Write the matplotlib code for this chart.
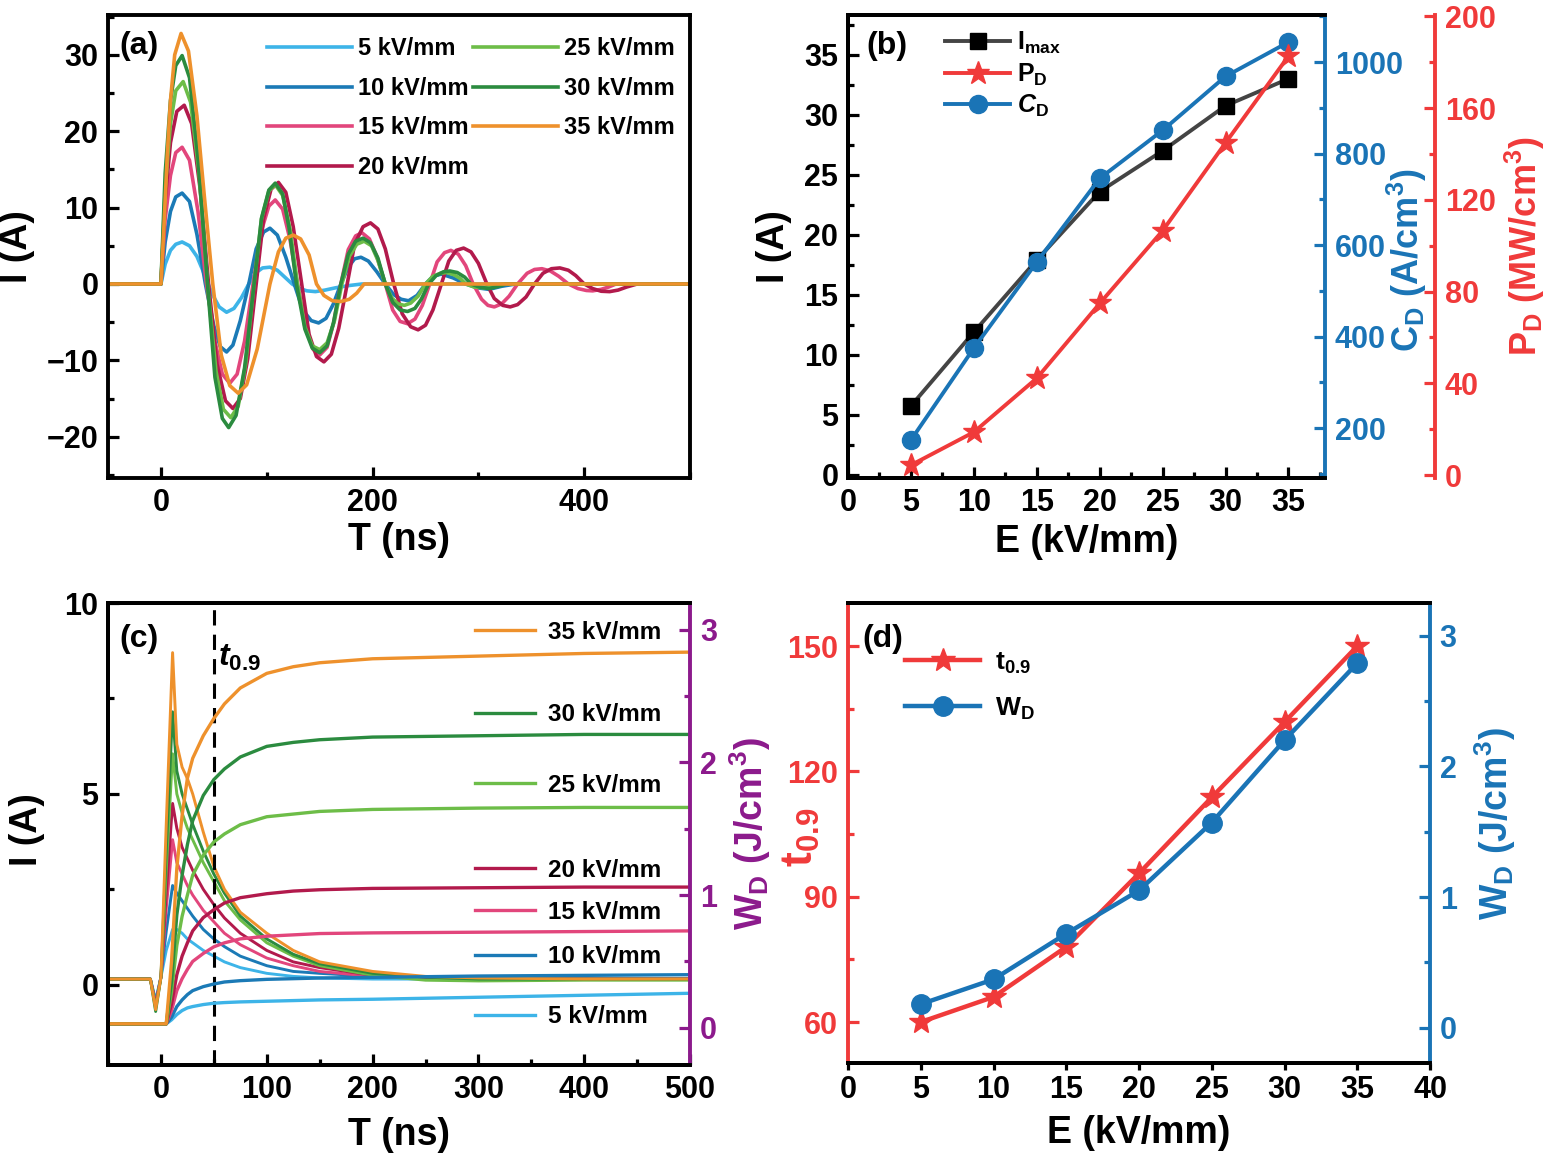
import matplotlib
matplotlib.use('Agg')
import matplotlib.pyplot as plt
from matplotlib.ticker import MultipleLocator
from matplotlib.legend import Legend

# ---------------- DATA ----------------
fields = [5, 10, 15, 20, 25, 30, 35]
field_labels = ['5 kV/mm', '10 kV/mm', '15 kV/mm', '20 kV/mm', '25 kV/mm', '30 kV/mm', '35 kV/mm']

# (a) discharge current waveforms: (T ns, I A)
A5 = [(-50,0),(0,0),(4,2.6),(9,4.4),(14,5.2),(20,5.5),(27,5.0),(34,3.6),(41,1.3),(48,-1.2),(55,-3.0),(62,-3.7),(69,-3.2),(76,-1.8),(83,0.0),(90,1.5),(96,2.1),(103,2.2),(110,1.8),(117,0.9),(124,0.0),(131,-0.6),(138,-0.9),(146,-1.0),(155,-0.8),(165,-0.5),(178,-0.2),(190,0),(500,0)]
A10 = [(-50,0),(0,0),(4,5.5),(9,9.5),(14,11.4),(20,11.9),(27,10.8),(34,6.5),(42,0),(50,-5.5),(56,-8.2),(62,-8.9),(68,-8.0),(75,-4.8),(83,0),(90,4.6),(97,6.8),(103,7.3),(110,6.4),(118,3.5),(126,0),(134,-3.4),(142,-4.8),(149,-5.1),(156,-4.5),(163,-2.6),(170,0),(177,2.2),(183,3.3),(189,3.5),(196,3.0),(204,1.6),(212,0),(220,-1.4),(227,-2.0),(234,-2.2),(242,-1.5),(250,0),(257,1.0),(265,1.3),(276,0.8),(288,0),(299,-0.5),(310,-0.7),(322,-0.3),(335,0),(500,0)]
A15 = [(-50,0),(0,0),(4,8.5),(9,14.2),(14,17.2),(20,17.9),(27,16.2),(35,9.5),(43,0),(51,-7.5),(58,-11.8),(65,-13.0),(72,-11.8),(79,-7.5),(87,0),(95,7.0),(102,10.2),(108,11.0),(115,9.8),(122,5.8),(129,0),(137,-5.8),(144,-8.6),(150,-9.3),(157,-8.3),(163,-5.2),(170,0),(177,4.5),(184,6.3),(190,6.7),(197,5.9),(204,3.6),(212,0),(219,-3.4),(226,-4.9),(233,-5.2),(240,-4.6),(247,-2.8),(254,0),(261,2.9),(268,4.1),(274,4.4),(281,3.9),(288,2.4),(295,0),(303,-2.0),(309,-2.8),(315,-3.0),(322,-2.6),(329,-1.6),(337,0),(346,1.4),(353,1.9),(360,2.0),(368,1.7),(376,1.0),(385,0),(394,-0.6),(402,-0.85),(408,-0.9),(416,-0.7),(423,-0.4),(430,0),(500,0)]
A20 = [(-50,0),(0,0),(4,11),(9,18.5),(15,22.6),(22,23.4),(29,21.0),(37,12.5),(45,0),(53,-10.5),(61,-15.3),(68,-16.3),(75,-15.0),(82,-9.8),(90,0),(97,8.6),(104,12.4),(111,13.3),(118,12.0),(125,7.5),(133,0),(140,-6.6),(147,-9.5),(154,-10.2),(161,-9.2),(168,-5.8),(176,0),(183,5.2),(191,7.5),(198,8.0),(205,7.2),(212,4.6),(220,0),(228,-3.9),(236,-5.6),(243,-6.0),(250,-5.4),(257,-3.4),(265,0),(272,3.0),(279,4.4),(286,4.7),(293,4.2),(300,2.7),(308,0),(315,-1.9),(323,-2.8),(330,-3.0),(337,-2.7),(345,-1.7),(353,0),(361,1.4),(369,2.0),(377,2.1),(385,1.8),(392,1.1),(400,0),(408,-0.6),(416,-0.95),(424,-1.0),(432,-0.8),(440,-0.4),(450,0),(500,0)]
A25 = [(-50,0),(0,0),(4,12.5),(9,21),(14,25.3),(21,26.5),(28,23.8),(36,14.5),(44,0),(52,-11.4),(59,-16.4),(66,-17.5),(73,-16.0),(80,-10.5),(88,0),(95,8.5),(102,12.2),(108,13.0),(115,11.6),(122,7.2),(129,0),(136,-5.6),(143,-8.1),(150,-8.6),(157,-7.7),(164,-4.8),(171,0),(178,3.6),(185,5.2),(192,5.6),(199,5.0),(205,3.1),(212,0),(218,-1.8),(224,-2.6),(230,-2.8),(236,-2.5),(243,-1.6),(250,0),(257,1.0),(264,1.4),(270,1.5),(277,1.2),(283,0.7),(288,0),(296,-0.4),(305,-0.5),(313,-0.3),(322,0),(500,0)]
A30 = [(-50,0),(0,0),(4,14.5),(9,24),(14,28.6),(20,29.9),(27,27.0),(35,16.5),(44,0),(51,-12.2),(58,-17.6),(64,-18.8),(71,-17.2),(79,-11.0),(88,0),(95,8.6),(102,12.3),(108,13.2),(115,11.8),(121,7.4),(128,0),(136,-5.9),(143,-8.4),(150,-9.0),(157,-8.1),(163,-5.1),(170,0),(177,3.9),(184,5.6),(191,6.0),(198,5.4),(205,3.4),(212,0),(219,-2.4),(226,-3.4),(233,-3.6),(240,-3.2),(246,-2.0),(253,0),(260,1.1),(267,1.6),(273,1.7),(280,1.5),(287,0.9),(293,0),(301,-0.4),(310,-0.6),(318,-0.35),(326,0),(500,0)]
A35 = [(-50,0),(0,0),(3,8),(6,17),(9,24),(13,30),(19,32.8),(26,30.5),(34,22),(41,11.5),(49,0),(57,-9.3),(65,-13.3),(73,-14.3),(81,-13.2),(91,-8.5),(103,0),(111,4.2),(118,6.0),(125,6.4),(132,5.9),(140,3.8),(147,0),(154,-1.5),(162,-2.2),(170,-2.3),(178,-2.0),(185,-1.2),(192,0),(500,0)]
waves_a = [A5, A10, A15, A20, A25, A30, A35]

# (b) peak current, current density, power density vs field
E_b = [5, 10, 15, 20, 25, 30, 35]
I_max = [5.75, 11.9, 17.9, 23.6, 27.0, 30.75, 33.0]
C_D = [174, 375, 563, 746, 851, 969, 1044]
P_D = [4.3, 18.7, 42.2, 74.8, 106.5, 144.8, 182.6]

# (c) current (left axis) and discharge energy density (right axis)
T_c = [-50, -10, -5, 0, 5, 11, 15, 20, 25, 30, 40, 50, 60, 75, 100, 125, 150, 200, 250, 300, 400, 500]
C5 = [0.15,0.15,-0.4,0.2,0.9,1.45,1.45,1.35,1.2,1.1,0.9,0.75,0.6,0.45,0.3,0.22,0.18,0.15,0.15,0.15,0.15,0.15]
C10 = [0.15,0.15,-0.45,0.2,1.4,2.6,2.4,2.2,2.0,1.8,1.45,1.2,1.0,0.75,0.5,0.35,0.3,0.22,0.2,0.18,0.15,0.15]
C15 = [0.15,0.15,-0.5,0.2,2.0,3.8,3.2,2.9,2.6,2.35,1.95,1.65,1.35,1.05,0.7,0.5,0.35,0.22,0.18,0.15,0.15,0.15]
C20 = [0.15,0.15,-0.55,0.2,2.4,4.75,4.1,3.6,3.3,3.0,2.5,2.1,1.75,1.35,0.9,0.6,0.45,0.25,0.2,0.18,0.15,0.15]
C25 = [0.15,0.15,-0.6,0.2,3.0,6.05,5.0,4.5,4.1,3.8,3.2,2.7,2.2,1.7,1.1,0.75,0.5,0.25,0.12,0.1,0.12,0.12]
C30 = [0.15,0.15,-0.7,0.2,3.5,7.15,5.6,5.0,4.6,4.2,3.5,2.9,2.4,1.8,1.2,0.8,0.55,0.3,0.2,0.15,0.15,0.15]
C35 = [0.15,0.15,-0.65,0.2,4.2,8.7,6.3,5.7,5.4,5.0,4.0,3.1,2.5,1.9,1.35,0.9,0.6,0.35,0.22,0.18,0.15,0.15]
currents_c = [C5, C10, C15, C20, C25, C30, C35]

T_w = [-50, 5, 10, 15, 20, 25, 30, 40, 50, 60, 75, 100, 125, 150, 200, 300, 400, 500]
W5 = [0.03,0.03,0.06,0.10,0.13,0.15,0.16,0.175,0.185,0.19,0.195,0.2,0.205,0.21,0.215,0.23,0.245,0.26]
W10 = [0.03,0.03,0.08,0.16,0.21,0.25,0.28,0.31,0.33,0.345,0.355,0.365,0.37,0.375,0.38,0.39,0.395,0.40]
W15 = [0.03,0.03,0.13,0.28,0.37,0.44,0.5,0.56,0.61,0.64,0.67,0.69,0.70,0.71,0.715,0.72,0.725,0.73]
W20 = [0.03,0.03,0.18,0.40,0.54,0.64,0.73,0.83,0.89,0.94,0.98,1.01,1.03,1.04,1.05,1.055,1.06,1.06]
W25 = [0.03,0.03,0.27,0.62,0.84,1.0,1.15,1.3,1.40,1.46,1.53,1.59,1.61,1.63,1.645,1.655,1.66,1.66]
W30 = [0.03,0.03,0.35,0.85,1.15,1.38,1.56,1.75,1.87,1.95,2.04,2.12,2.15,2.17,2.19,2.2,2.21,2.21]
W35 = [0.03,0.03,0.5,1.2,1.6,1.88,2.03,2.2,2.33,2.44,2.56,2.67,2.72,2.75,2.78,2.8,2.82,2.83]
energies_c = [W5, W10, W15, W20, W25, W30, W35]
t09_marker = 50

# (d) t0.9 and W_D vs field
E_d = [5, 10, 15, 20, 25, 30, 35]
t09 = [60, 66, 78, 95.6, 113.8, 131.8, 150]
W_D = [0.18, 0.37, 0.72, 1.05, 1.57, 2.2, 2.79]

# ---------------- STYLE ----------------
plt.rcParams['font.family'] = ['Liberation Sans', 'DejaVu Sans']
plt.rcParams['font.weight'] = 'bold'
plt.rcParams['axes.labelweight'] = 'bold'
plt.rcParams['mathtext.fontset'] = 'custom'
plt.rcParams['mathtext.rm'] = 'Liberation Sans:bold'
plt.rcParams['mathtext.it'] = 'Liberation Sans:bold:italic'
plt.rcParams['mathtext.bf'] = 'Liberation Sans:bold'
plt.rcParams['mathtext.default'] = 'rm'
plt.rcParams['axes.linewidth'] = 2.8

colors = ['#3db4e8', '#1b7ab6', '#e2467c', '#b21a4c', '#6dbd48', '#2b8b3f', '#ee912c']
RED = '#f03a3a'
BLUE = '#1a74b6'
PURPLE = '#8c1a8c'
TICK = 22
LAB = 27
PANEL = 23

fig = plt.figure(figsize=(15.5, 11.63), dpi=100)
axA = fig.add_axes([0.0697, 0.589, 0.3755, 0.398])
axB = fig.add_axes([0.5471, 0.589, 0.3077, 0.398])
axC = fig.add_axes([0.0697, 0.0843, 0.3755, 0.3972])
axD = fig.add_axes([0.5471, 0.086, 0.3755, 0.3955])


def ticks(ax, which_axis='both', color=None, direction='in'):
    kw = dict(which='both', direction=direction, width=2.3, labelsize=TICK, pad=7)
    if color is not None:
        kw['colors'] = color
    ax.tick_params(axis=which_axis, **kw)
    ax.tick_params(axis=which_axis, which='major', length=8)
    ax.tick_params(axis=which_axis, which='minor', length=4)


# ---------------- (a) ----------------
for wave, c, lab in zip(waves_a, colors, field_labels):
    t = [p[0] for p in wave]
    v = [p[1] for p in wave]
    axA.plot(t, v, color=c, lw=2.6, label=lab)
axA.set_xlim(-50, 500)
axA.set_ylim(-25.4, 35.2)
axA.xaxis.set_major_locator(MultipleLocator(200))
axA.xaxis.set_minor_locator(MultipleLocator(100))
axA.yaxis.set_major_locator(MultipleLocator(10))
axA.yaxis.set_minor_locator(MultipleLocator(5))
ticks(axA)
axA.set_xlabel('T (ns)', fontsize=LAB)
axA.set_ylabel('I (A)', fontsize=LAB)
axA.xaxis.set_label_coords(0.5, -0.095)
axA.yaxis.set_label_coords(-0.125, 0.5)
axA.text(0.02, 0.965, '(a)', transform=axA.transAxes, fontsize=PANEL, va='top', ha='left')
axA.legend(ncol=2, loc='upper right', bbox_to_anchor=(1.0, 0.985), frameon=False, fontsize=17,
           handlelength=3.6, handletextpad=0.25, columnspacing=0.2, labelspacing=0.7,
           borderaxespad=0.25)

# ---------------- (b) ----------------
axB2 = axB.twinx()
axB3 = axB.twinx()
axB3.spines['right'].set_position(('axes', 1.2306))
for s in ['left', 'top', 'bottom']:
    axB3.spines[s].set_visible(False)
axB.spines['right'].set_visible(False)
axB2.spines['right'].set_color(BLUE)
axB3.spines['right'].set_color(RED)

l1, = axB.plot(E_b, I_max, color='#444444', lw=2.8, marker='s', ms=12, mfc='black', mec='black',
               label=r'$\mathrm{I}_{\mathrm{max}}$')
l3, = axB3.plot(E_b, P_D, color=RED, lw=2.8, marker='*', ms=17, mfc=RED, mec=RED,
                label=r'$\mathrm{P}_{\mathrm{D}}$')
l2, = axB2.plot(E_b, C_D, color=BLUE, lw=2.8, marker='o', ms=13, mfc=BLUE, mec=BLUE,
                label=r'$\mathit{C}_{\mathrm{D}}$')
axB.set_xlim(0, 37.9)
axB.set_ylim(-0.25, 38.3)
axB2.set_ylim(91, 1103)
axB3.set_ylim(-1.3, 200.5)
axB.xaxis.set_major_locator(MultipleLocator(5))
axB.xaxis.set_minor_locator(MultipleLocator(2.5))
axB.yaxis.set_major_locator(MultipleLocator(5))
axB.yaxis.set_minor_locator(MultipleLocator(2.5))
axB2.yaxis.set_major_locator(MultipleLocator(200))
axB2.yaxis.set_minor_locator(MultipleLocator(100))
axB3.yaxis.set_major_locator(MultipleLocator(40))
axB3.yaxis.set_minor_locator(MultipleLocator(20))
ticks(axB)
ticks(axB2, 'y', BLUE)
ticks(axB3, 'y', RED)
axB.set_xlabel('E (kV/mm)', fontsize=LAB)
axB.set_ylabel('I (A)', fontsize=LAB)
axB.xaxis.set_label_coords(0.5, -0.1)
axB.yaxis.set_label_coords(-0.117, 0.5)
axB2.set_ylabel(r'C$_\mathrm{D}$ (A/cm$^3$)', fontsize=26, color=BLUE)
axB3.set_ylabel(r'P$_\mathrm{D}$ (MW/cm$^3$)', fontsize=26, color=RED)
axB2.yaxis.set_label_coords(1.126, 0.47)
axB3.yaxis.set_label_coords(1.372, 0.5)
axB.text(0.038, 0.965, '(b)', transform=axB.transAxes, fontsize=PANEL, va='top', ha='left')
legB = Legend(axB2, [l1, l3, l2], [l1.get_label(), l3.get_label(), l2.get_label()],
              loc='upper left', bbox_to_anchor=(0.172, 1.0), frameon=False, fontsize=18,
              handlelength=2.6, handletextpad=0.28, labelspacing=0.2, borderaxespad=0.2)
axB2.add_artist(legB)

# ---------------- (c) ----------------
axC2 = axC.twinx()
axC2.spines['right'].set_color(PURPLE)
axC.spines['right'].set_visible(False)
for cur, c in zip(currents_c, colors):
    axC.plot(T_c, cur, color=c, lw=2.1)
handles_c = []
for w, c in zip(energies_c, colors):
    h, = axC2.plot(T_w, w, color=c, lw=2.4)
    handles_c.append(h)
axC.axvline(t09_marker, color='black', lw=2.2, ls=(0, (5, 3)))
axC.set_xlim(-50, 500)
axC.set_ylim(-2.1, 10)
axC2.set_ylim(-0.28, 3.2)
axC.xaxis.set_major_locator(MultipleLocator(100))
axC.xaxis.set_minor_locator(MultipleLocator(50))
axC.yaxis.set_major_locator(MultipleLocator(5))
axC.yaxis.set_minor_locator(MultipleLocator(2.5))
axC2.yaxis.set_major_locator(MultipleLocator(1))
axC2.yaxis.set_minor_locator(MultipleLocator(0.5))
ticks(axC)
ticks(axC2, 'y', PURPLE)
axC.set_xlabel('T (ns)', fontsize=LAB)
axC.set_ylabel('I (A)', fontsize=LAB)
axC.xaxis.set_label_coords(0.5, -0.113)
axC.yaxis.set_label_coords(-0.108, 0.51)
axC2.set_ylabel(r'W$_\mathrm{D}$ (J/cm$^3$)', fontsize=LAB, color=PURPLE)
axC2.yaxis.set_label_coords(1.065, 0.5)
axC.text(0.02, 0.955, '(c)', transform=axC.transAxes, fontsize=PANEL, va='top', ha='left')
axC.text(t09_marker + 4, 8.55, r'$\mathit{t}_{0.9}$', fontsize=23, va='center', ha='left')
label_y = [0.104, 0.234, 0.331, 0.422, 0.606, 0.758, 0.937]
for h, lab, yy in zip(handles_c, field_labels, label_y):
    lg = Legend(axC2, [h], [lab], loc='center left', bbox_to_anchor=(0.63, yy), frameon=False,
                fontsize=17.5, handlelength=2.5, handletextpad=0.53, borderpad=0, borderaxespad=0)
    axC2.add_artist(lg)

# ---------------- (d) ----------------
axD2 = axD.twinx()
axD.spines['left'].set_color(RED)
axD.spines['right'].set_visible(False)
axD2.spines['right'].set_color(BLUE)
axD2.spines['left'].set_visible(False)
d1, = axD.plot(E_d, t09, color=RED, lw=3.2, marker='*', ms=18, mfc=RED, mec=RED,
               label=r'$\mathrm{t}_{0.9}$')
d2, = axD2.plot(E_d, W_D, color=BLUE, lw=3.2, marker='o', ms=14, mfc=BLUE, mec=BLUE,
                label=r'$\mathrm{W}_{\mathrm{D}}$')
axD.set_xlim(0, 40)
axD.set_ylim(50.2, 160.3)
axD2.set_ylim(-0.27, 3.25)
axD.xaxis.set_major_locator(MultipleLocator(5))
axD.yaxis.set_major_locator(MultipleLocator(30))
axD.yaxis.set_minor_locator(MultipleLocator(15))
axD2.yaxis.set_major_locator(MultipleLocator(1))
axD2.yaxis.set_minor_locator(MultipleLocator(0.5))
ticks(axD, 'x', direction='out')
axD.tick_params(axis='x', which='major', length=5, pad=4)
ticks(axD, 'y', RED)
ticks(axD2, 'y', BLUE)
axD.set_xlabel('E (kV/mm)', fontsize=LAB)
axD.xaxis.set_label_coords(0.5, -0.113)
axD.set_ylabel(r't$_{0.9}$', fontsize=32, color=RED)
axD.yaxis.set_label_coords(-0.044, 0.49)
axD2.set_ylabel(r'W$_\mathrm{D}$ (J/cm$^3$)', fontsize=LAB, color=BLUE)
axD2.yaxis.set_label_coords(1.072, 0.52)
axD.text(0.024, 0.955, '(d)', transform=axD.transAxes, fontsize=PANEL, va='top', ha='left')
legD = Legend(axD2, [d1, d2], [d1.get_label(), d2.get_label()], loc='upper left',
              bbox_to_anchor=(0.08, 0.92), frameon=False, fontsize=19, handlelength=2.85,
              handletextpad=0.57, labelspacing=0.75, borderaxespad=0)
axD2.add_artist(legD)

fig.savefig('out.png', dpi=100)
